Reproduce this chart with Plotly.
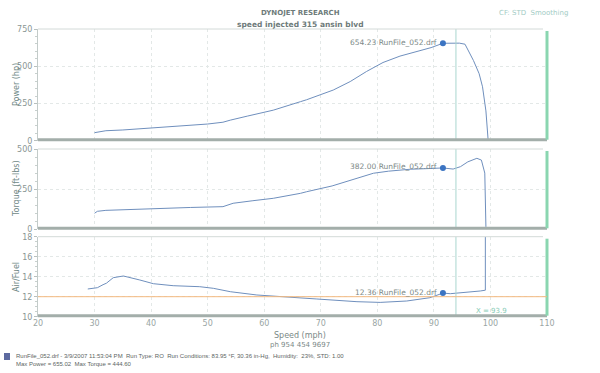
import plotly.graph_objects as go

# ---------------- data ----------------
speed_power = [30, 30.5, 32, 35, 41, 45, 50, 52.7, 54, 57, 61.6, 66.4, 67.5, 72.2, 75.2, 78.1,
               81, 84, 87, 89.5, 91.6, 93, 94.5, 95.5, 97.0, 98.0, 98.6, 99.2, 99.5, 99.6]
power_hp = [54, 58, 67, 72, 87, 97, 112, 124, 138, 165, 205, 262, 275, 340, 397, 465,
            525, 568, 597, 625, 654.2, 653, 655, 648, 538, 450, 362, 200, 27, 0]

speed_torque = [30, 30.5, 32, 36, 41, 47, 52.7, 54.5, 58, 61.6, 66.4, 67.5, 72, 76, 79.3, 82,
                85.8, 89, 91.6, 93.4, 94.7, 96, 97.6, 98.4, 99.0, 99.2, 99.3]
torque_ftlb = [100, 112, 118, 124, 131, 136, 141, 162, 178, 193, 224, 234, 270, 315, 349, 362,
               374, 378, 382, 375, 390, 420, 442, 431, 350, 16, 0]

speed_afr = [28.8, 29.2, 30.5, 31.5, 32.1, 33.3, 35.1, 38, 40.4, 43.9, 48.6, 51, 54, 58.7,
             63.4, 69.3, 76.4, 80.5, 85.2, 89.3, 91.6, 92.9, 98.2, 99.1, 99.1]
afr = [12.77, 12.8, 12.9, 13.2, 13.35, 13.9, 14.07, 13.67, 13.3, 13.1, 13.0, 12.84, 12.5, 12.17,
       11.97, 11.77, 11.5, 11.43, 11.57, 11.9, 12.36, 12.3, 12.57, 12.65, 18.0]

marker_speed = 91.6
marker_values = [654.23, 382.00, 12.36]
marker_labels = ["654.23 RunFile_052.drf", "382.00 RunFile_052.drf", "12.36 RunFile_052.drf"]
cursor_speed = 93.9
afr_target = 12
x_ticks = [20, 30, 40, 50, 60, 70, 80, 90, 100, 110]

# ---------------- layout helpers ----------------
W, H = 600, 373
def px(x): return x / W
def py(y): return 1 - y / H

X0, X1 = 38, 547
panels = [(29, 140.7), (149, 229.3), (236.7, 316.7)]  # pixel top/bottom
ranges = [[0, 750], [0, 500], [10, 18]]
ytick_sets = [[0, 250, 500, 750], [0, 250, 500], [10, 12, 14, 16, 18]]
minor_dt = [50, 50, 0.5]

LINE = "#6f8fbd"
MARK = "#3b74c2"
GREY = "#7d8a88"
CURSOR = "#a9d6cf"

fig = go.Figure()
series = [(speed_power, power_hp), (speed_torque, torque_ftlb), (speed_afr, afr)]
for i, (xs, ys) in enumerate(series):
    xa = "x" if i == 0 else f"x{i+1}"
    ya = "y" if i == 0 else f"y{i+1}"
    fig.add_trace(go.Scatter(x=xs, y=ys, mode="lines", line=dict(color=LINE, width=1),
                             xaxis=xa, yaxis=ya, hoverinfo="skip", showlegend=False))
    fig.add_trace(go.Scatter(x=[marker_speed], y=[marker_values[i]], mode="markers",
                             marker=dict(color=MARK, size=6), xaxis=xa, yaxis=ya,
                             showlegend=False, hoverinfo="skip"))
    fig.add_annotation(x=marker_speed, y=marker_values[i], xref=xa, yref=ya,
                       text=marker_labels[i], showarrow=False, xanchor="right",
                       xshift=-4, yshift=1, font=dict(size=7.5, color=GREY, family="DejaVu Sans"))

for i, ((top, bot), rng) in enumerate(zip(panels, ranges)):
    n = "" if i == 0 else str(i + 1)
    fig.layout["xaxis" + n] = dict(
        domain=[px(X0), px(X1)], range=[20, 110], anchor="y" + n, automargin=False,
        tickvals=x_ticks, showticklabels=(i == 2), ticks="",
        showgrid=True, gridcolor="#e3e8e7", griddash="dot", gridwidth=1,
        tickfont=dict(size=8, color="#9aa6a4", family="DejaVu Sans"),
        matches=None if i == 0 else "x", showline=False, zeroline=False)
    fig.layout["yaxis" + n] = dict(
        domain=[py(bot), py(top)], range=rng, anchor="x" + n, automargin=False,
        tickvals=ytick_sets[i], ticks="outside", ticklen=3, tickcolor="#b8c0be",
        minor=dict(dtick=minor_dt[i], ticks="outside", ticklen=2, tickcolor="#c8d0ce"),
        showgrid=True, gridcolor="#e3e8e7", griddash="dot",
        tickfont=dict(size=8, color="#8a9694", family="DejaVu Sans"),
        showline=True, linecolor="#c3cbc9", linewidth=1, mirror=False, zeroline=False)

shapes = []
for i, (top, bot) in enumerate(panels):
    n = "" if i == 0 else str(i + 1)
    shapes.append(dict(type="line", xref="x" + n, yref=f"y{n} domain", x0=cursor_speed, x1=cursor_speed,
                       y0=0, y1=1, line=dict(color=CURSOR, width=1)))
    shapes.append(dict(type="line", xref="paper", yref="paper", x0=px(X0), x1=px(X1 - 4),
                       y0=py(top), y1=py(top), line=dict(color="#d3dad8", width=1)))
    shapes.append(dict(type="line", xref="paper", yref="paper", x0=px(X0), x1=px(X1),
                       y0=py(bot - 1), y1=py(bot - 1), line=dict(color="#a3aeaa", width=3)))
    shapes.append(dict(type="line", xref="paper", yref="paper", x0=px(X1), x1=px(X1),
                       y0=py(bot - 1), y1=py(top + 2), line=dict(color="#8ad6b0", width=3)))
shapes.append(dict(type="line", xref="x3", yref="y3", x0=20, x1=110, y0=afr_target, y1=afr_target,
                   line=dict(color="#f3b97f", width=1)))
shapes.append(dict(type="rect", xref="paper", yref="paper", x0=px(4), x1=px(10),
                   y0=py(360), y1=py(353), fillcolor="#5d6aa0", line=dict(width=0)))
fig.update_layout(shapes=shapes)

ann = [
    dict(x=px(300), y=py(13), text="<b>DYNOJET RESEARCH</b>", font=dict(size=7, color="#6e7b7a")),
    dict(x=px(300), y=py(24), text="<b>speed injected 315 ansin blvd</b>", font=dict(size=7.5, color="#6e7b7a")),
    dict(x=px(497), y=py(13), text="CF: STD  Smoothing", xanchor="left", font=dict(size=7, color="#a3ccc5")),
    dict(x=px(16), y=py(85), text="Power (hp)", textangle=-90, font=dict(size=8, color="#6f8886")),
    dict(x=px(16), y=py(189), text="Torque (ft-lbs)", textangle=-90, font=dict(size=8, color="#6f8886")),
    dict(x=px(16), y=py(277), text="Air/Fuel", textangle=-90, font=dict(size=8, color="#6f8886")),
    dict(x=px(300), y=py(335), text="Speed (mph)", font=dict(size=8, color="#7a8886")),
    dict(x=px(300), y=py(345), text="ph 954 454 9697", font=dict(size=7, color="#7a8886")),
    dict(x=px(14), y=py(356), xanchor="left",
         text="RunFile_052.drf - 3/9/2007 11:53:04 PM  Run Type: RO  Run Conditions: 83.95 °F, 30.36 in-Hg,  Humidity:  23%, STD: 1.00",
         font=dict(size=6, color="#5c6563", family="Liberation Sans")),
    dict(x=px(14), y=py(364), xanchor="left", text="Max Power = 655.02  Max Torque = 444.60",
         font=dict(size=6, color="#5c6563", family="Liberation Sans")),
]
for a in ann:
    a.setdefault("xanchor", "center")
    a.update(xref="paper", yref="paper", showarrow=False, yanchor="middle")
    a["font"].setdefault("family", "DejaVu Sans")
    fig.add_annotation(**a)

fig.add_annotation(x=100.2, y=10.6, xref="x3", yref="y3", text="X = 93.9", showarrow=False,
                   font=dict(size=7, color="#86cbb5", family="DejaVu Sans"))

fig.update_layout(width=W, height=H, margin=dict(l=0, r=0, t=0, b=0),
                  paper_bgcolor="white", plot_bgcolor="white", showlegend=False)
fig.write_html("out.html", config={"displayModeBar": False},
               post_script="document.body.style.margin='0';document.body.style.overflow='hidden';")
